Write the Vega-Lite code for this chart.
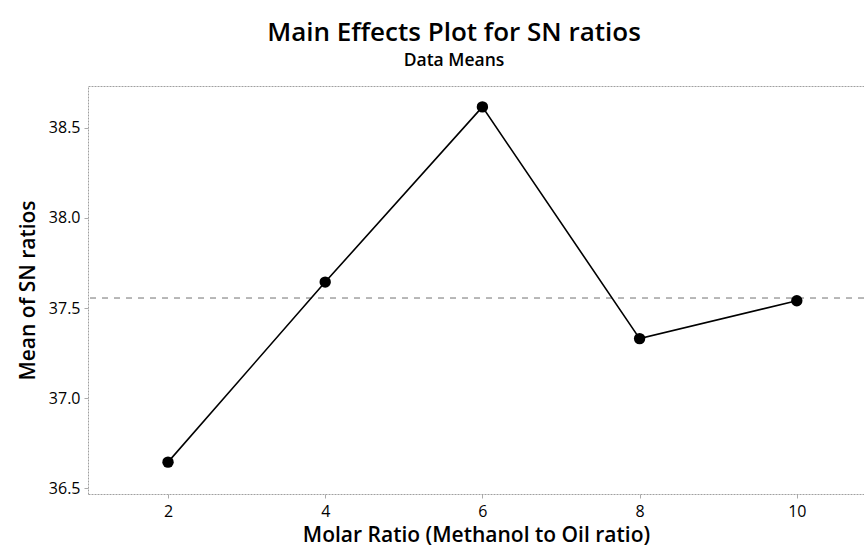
{
  "$schema": "https://vega.github.io/schema/vega-lite/v6.json",
  "autosize": {"type": "none"},
  "padding": {"left": 88, "top": 86, "right": 0, "bottom": 61},
  "width": 776,
  "height": 408,
  "background": "white",
  "title": {
    "text": "Main Effects Plot for SN ratios",
    "subtitle": "Data Means",
    "font": "Open Sans",
    "fontSize": 26,
    "fontWeight": 600,
    "color": "black",
    "subtitleFont": "Open Sans",
    "subtitleFontSize": 17.5,
    "subtitleFontWeight": 600,
    "subtitleColor": "black",
    "subtitlePadding": 6,
    "anchor": "middle",
    "dx": -22,
    "offset": 17
  },
  "config": {
    "view": {"stroke": null},
    "font": "Open Sans"
  },
  "data": {
    "values": [
      {"ratio": 2, "sn": 36.644},
      {"ratio": 4, "sn": 37.644},
      {"ratio": 6, "sn": 38.617},
      {"ratio": 8, "sn": 37.33},
      {"ratio": 10, "sn": 37.54}
    ]
  },
  "resolve": {"axis": {"x": "independent"}},
  "layer": [
    {
      "mark": {"type": "rule", "color": "#b5b5b5", "strokeDash": [6, 6], "strokeWidth": 1},
      "encoding": {
        "y": {"datum": 37.555, "type": "quantitative"}
      }
    },
    {
      "mark": {"type": "line", "color": "black", "strokeWidth": 1.6},
      "encoding": {
        "x": {
          "field": "ratio", "type": "quantitative",
          "scale": {"domain": [0.982, 10.855], "nice": false, "zero": false},
          "axis": {
            "orient": "bottom",
            "values": [2, 4, 6, 8, 10],
            "title": "Molar Ratio (Methanol to Oil ratio)",
            "titleFont": "Open Sans", "titleFontSize": 21, "titleFontWeight": 600, "titleColor": "black",
            "titlePadding": 5,
            "labelFont": "Open Sans", "labelFontSize": 16, "labelFontWeight": 500, "labelColor": "black",
            "labelPadding": 5,
            "tickSize": 4, "tickColor": "#aaaaaa",
            "domainColor": "#a0a0a0", "domainDash": [2, 1],
            "grid": false
          }
        },
        "y": {
          "field": "sn", "type": "quantitative",
          "scale": {"domain": [36.467, 38.733], "nice": false, "zero": false},
          "axis": {
            "values": [36.5, 37.0, 37.5, 38.0, 38.5],
            "format": ".1f",
            "title": "Mean of SN ratios",
            "titleFont": "Open Sans", "titleFontSize": 21, "titleFontWeight": 600, "titleColor": "black",
            "titlePadding": 10,
            "labelFont": "Open Sans", "labelFontSize": 16, "labelFontWeight": 500, "labelColor": "black",
            "labelPadding": 4,
            "tickSize": 4, "tickColor": "#aaaaaa",
            "domainColor": "#a0a0a0", "domainDash": [2, 1],
            "grid": false
          }
        }
      }
    },
    {
      "mark": {"type": "point", "filled": true, "color": "black", "opacity": 1, "size": 130},
      "encoding": {
        "x": {"field": "ratio", "type": "quantitative", "axis": {"orient": "top", "labels": false, "ticks": false, "title": null, "grid": false, "domainColor": "#a0a0a0", "domainDash": [2, 1]}},
        "y": {"field": "sn", "type": "quantitative"}
      }
    }
  ]
}
